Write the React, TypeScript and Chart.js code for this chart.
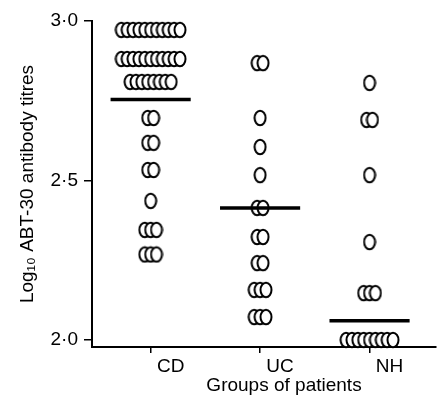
import React, { useEffect, useRef } from "react";
import { Chart, registerables } from "chart.js";

Chart.register(...registerables);

// ---- data ----
const categories = ["CD", "UC", "NH"];
const yTickValues = [2.0, 2.5, 3.0];
const yTickLabels = ["2·0", "2·5", "3·0"];

const cdValues = [
  2.972, 2.972, 2.972, 2.972, 2.972, 2.972, 2.972, 2.972, 2.972, 2.972, 2.972,
  2.881, 2.881, 2.881, 2.881, 2.881, 2.881, 2.881, 2.881, 2.881, 2.881, 2.881,
  2.809, 2.809, 2.809, 2.809, 2.809, 2.809, 2.809, 2.809,
  2.696, 2.696,
  2.618, 2.618,
  2.533, 2.533,
  2.436,
  2.345, 2.345, 2.345,
  2.268, 2.268, 2.268,
];
const ucValues = [
  2.868, 2.868,
  2.696,
  2.605,
  2.517,
  2.414, 2.414,
  2.323, 2.323,
  2.241, 2.241,
  2.157, 2.157, 2.157,
  2.072, 2.072, 2.072,
];
const nhValues = [
  2.806,
  2.69, 2.69,
  2.517,
  2.307,
  2.147, 2.147, 2.147,
  2.0, 2.0, 2.0, 2.0, 2.0, 2.0, 2.0, 2.0, 2.0,
];
const groupLineValues = [2.754, 2.414, 2.06];

const xAxisTitle = "Groups of patients";
const yAxisTitle = "Log₁₀ ABT-30 antibody titres";

// ---- layout constants ----
const W = 444;
const H = 405;
const PX_PER_CAT = 112;
const X_MIN = 1 - 60 / PX_PER_CAT;
const X_MAX = 1 + (W - 92 - 60) / PX_PER_CAT;
const Y_MIN = 1.978;
const Y_MAX = 3.0;
const STEP = 6 / PX_PER_CAT;
const HALF_LINE = 41 / PX_PER_CAT;
const LABEL_SHIFT = 20;
const FONT = "'Liberation Sans', Arial, sans-serif";
const FS = 19;

function makeMarker(): HTMLCanvasElement {
  const c = document.createElement("canvas");
  c.width = 14;
  c.height = 18;
  const ctx = c.getContext("2d")!;
  ctx.beginPath();
  ctx.ellipse(7, 9, 5.5, 7.2, 0, 0, Math.PI * 2);
  ctx.fillStyle = "#fff";
  ctx.fill();
  ctx.lineWidth = 2;
  ctx.strokeStyle = "#000";
  ctx.stroke();
  return c;
}

function groupPoints(values: number[], cat: number) {
  const pts: { x: number; y: number }[] = [];
  let i = 0;
  while (i < values.length) {
    let j = i;
    while (j < values.length && values[j] === values[i]) j++;
    const n = j - i;
    for (let k = 0; k < n; k++) {
      pts.push({ x: cat + (k - (n - 1) / 2) * STEP, y: values[i] });
    }
    i = j;
  }
  return pts;
}

const xTitlePlugin = {
  id: "xTitleShifted",
  afterDraw(chart: any) {
    const { ctx, chartArea } = chart;
    ctx.save();
    ctx.font = `${FS}px ${FONT}`;
    ctx.fillStyle = "#000";
    ctx.textAlign = "center";
    ctx.textBaseline = "middle";
    ctx.fillText(xAxisTitle, (chartArea.left + chartArea.right) / 2 + LABEL_SHIFT, 386);
    ctx.restore();
  },
};

export default function App() {
  const ref = useRef<HTMLCanvasElement>(null);

  useEffect(() => {
    if (!ref.current) return;
    const marker = makeMarker();
    const groups = [cdValues, ucValues, nhValues];

    const pointSets = groups.map((vals, gi) => ({
      type: "scatter" as const,
      data: groupPoints(vals, gi + 1),
      pointStyle: marker,
      pointRadius: 7,
      clip: false as any,
      order: 1,
    }));
    const lineSets = groupLineValues.map((v, gi) => ({
      type: "line" as const,
      data: [
        { x: gi + 1 - HALF_LINE, y: v },
        { x: gi + 1 + HALF_LINE, y: v },
      ],
      borderColor: "#000",
      borderWidth: 3.5,
      pointRadius: 0,
      clip: false as any,
      order: 0,
    }));

    const chart = new Chart(ref.current, {
      type: "scatter",
      data: { datasets: [...pointSets, ...lineSets] as any },
      plugins: [xTitlePlugin],
      options: {
        responsive: false,
        animation: false,
        layout: { padding: { top: 21, right: 0, left: 0, bottom: 0 } },
        plugins: { legend: { display: false }, tooltip: { enabled: false } },
        scales: {
          x: {
            type: "linear",
            min: X_MIN,
            max: X_MAX,
            afterFit: (s: any) => {
              s.height = H - 347;
            },
            afterBuildTicks: (s: any) => {
              s.ticks = categories.map((_, i) => ({ value: i + 1 }));
            },
            ticks: {
              autoSkip: false,
              maxRotation: 0,
              padding: 2,
              labelOffset: LABEL_SHIFT,
              color: "#000",
              font: { family: FONT, size: FS },
              callback: (_v: any, i: number) => categories[i],
            },
            grid: {
              display: true,
              drawOnChartArea: false,
              drawTicks: true,
              tickLength: 6,
              color: "#000",
              lineWidth: 1.5,
            },
            border: { display: true, color: "#000", width: 2 },
            title: { display: false },
          },
          y: {
            type: "linear",
            min: Y_MIN,
            max: Y_MAX,
            afterFit: (s: any) => {
              s.width = 92;
            },
            afterBuildTicks: (s: any) => {
              s.ticks = yTickValues.map((v) => ({ value: v }));
            },
            ticks: {
              padding: 6,
              color: "#000",
              font: { family: FONT, size: FS },
              callback: (_v: any, i: number) => yTickLabels[i],
            },
            grid: {
              display: true,
              drawOnChartArea: false,
              drawTicks: true,
              tickLength: 8,
              color: "#000",
              lineWidth: 1.5,
            },
            border: { display: true, color: "#000", width: 2 },
            title: {
              display: true,
              text: yAxisTitle,
              color: "#000",
              font: { family: FONT, size: FS },
              padding: { top: 16, bottom: 0 },
            },
          },
        },
      },
    });
    return () => chart.destroy();
  }, []);

  return (
    <div style={{ position: "fixed", left: 0, top: 0, width: W, height: H, background: "#fff" }}>
      <canvas ref={ref} width={W} height={H} style={{ width: W, height: H, display: "block" }} />
    </div>
  );
}
